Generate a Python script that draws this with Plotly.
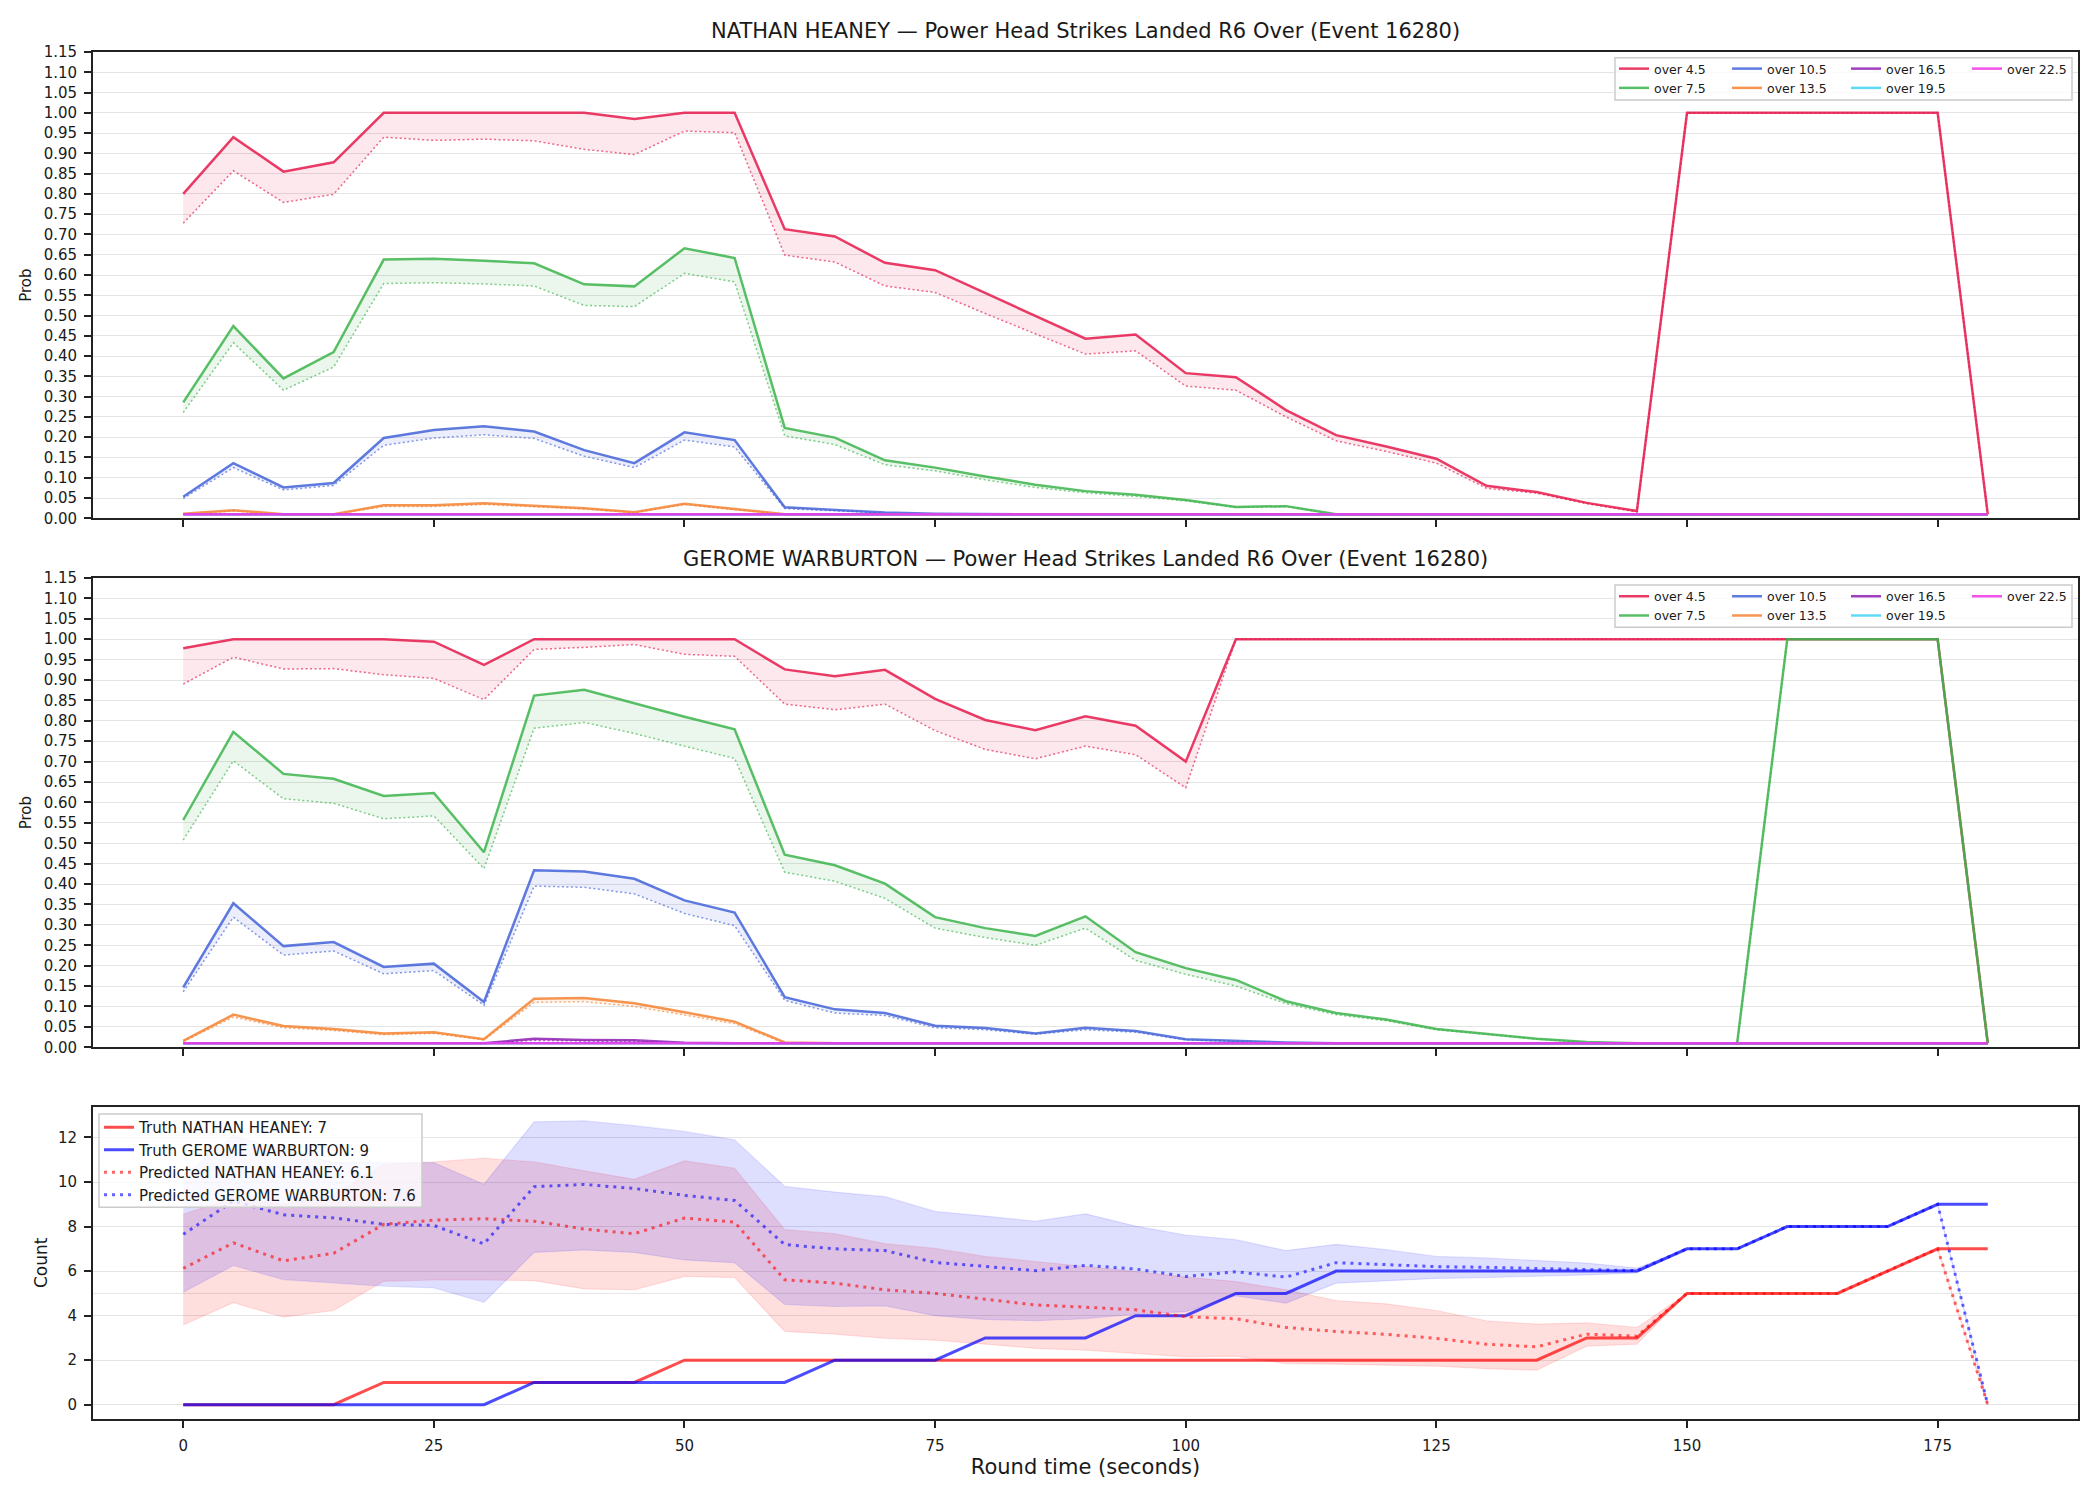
import plotly.graph_objects as go

# ---------------- data ----------------
TIME = [0, 5, 10, 15, 20, 25, 30, 35, 40, 45, 50, 55, 60, 65, 70, 75, 80, 85, 90,
        95, 100, 105, 110, 115, 120, 125, 130, 135, 140, 145, 150, 155, 160, 165, 170, 175, 180]
X_TICKS = [0, 25, 50, 75, 100, 125, 150, 175]

LINE_LABELS = ["over 4.5", "over 7.5", "over 10.5", "over 13.5", "over 16.5", "over 19.5", "over 22.5"]
LINE_COLORS = ["#e6194b", "#3cb44b", "#4363d8", "#f58231", "#911eb4", "#42d4f4", "#f032e6"]

# NATHAN HEANEY (solid = upper, lo = dotted lower)
HEANEY_O45 = [0.80, 0.94, 0.855, 0.878, 1.0, 1.0, 1.0, 1.0, 1.0, 0.985, 1.0, 1.0, 0.713, 0.695, 0.63, 0.612,
              0.556, 0.499, 0.443, 0.453, 0.358, 0.348, 0.267, 0.205, 0.177, 0.147, 0.08, 0.065, 0.038, 0.018,
              1.0, 1.0, 1.0, 1.0, 1.0, 1.0, 0.01]
HEANEY_O45_LO = [0.728, 0.857, 0.779, 0.799, 0.94, 0.932, 0.935, 0.931, 0.91, 0.897, 0.955, 0.951, 0.649, 0.632,
                 0.573, 0.557, 0.505, 0.455, 0.405, 0.413, 0.326, 0.316, 0.25, 0.191, 0.165, 0.136, 0.074, 0.062,
                 0.036, 0.016, 1.0, 1.0, 1.0, 1.0, 1.0, 1.0, 0.01]
HEANEY_O75 = [0.286, 0.474, 0.345, 0.41, 0.638, 0.64, 0.635, 0.629, 0.577, 0.572, 0.666, 0.642, 0.223, 0.199,
              0.143, 0.125, 0.103, 0.083, 0.067, 0.058, 0.045, 0.028, 0.03, 0.01, 0.01, 0.01, 0.01, 0.01, 0.01,
              0.01, 0.01, 0.01, 0.01, 0.01, 0.01, 0.01, 0.01]
HEANEY_O75_LO = [0.261, 0.433, 0.316, 0.373, 0.579, 0.581, 0.578, 0.573, 0.525, 0.522, 0.604, 0.583, 0.203, 0.182,
                 0.132, 0.117, 0.095, 0.076, 0.063, 0.054, 0.043, 0.027, 0.029, 0.01, 0.01, 0.01, 0.01, 0.01, 0.01,
                 0.01, 0.01, 0.01, 0.01, 0.01, 0.01, 0.01, 0.01]
HEANEY_O105 = [0.053, 0.136, 0.076, 0.087, 0.198, 0.218, 0.227, 0.214, 0.168, 0.136, 0.212, 0.193, 0.027, 0.021,
               0.014, 0.011, 0.01, 0.01, 0.01, 0.01, 0.01, 0.01, 0.01, 0.01, 0.01, 0.01, 0.01, 0.01, 0.01, 0.01,
               0.01, 0.01, 0.01, 0.01, 0.01, 0.01, 0.01]
HEANEY_O105_LO = [0.049, 0.125, 0.07, 0.081, 0.18, 0.198, 0.206, 0.197, 0.153, 0.125, 0.193, 0.176, 0.024, 0.018,
                  0.013, 0.01, 0.01, 0.01, 0.01, 0.01, 0.01, 0.01, 0.01, 0.01, 0.01, 0.01, 0.01, 0.01, 0.01, 0.01,
                  0.01, 0.01, 0.01, 0.01, 0.01, 0.01, 0.01]
HEANEY_O135 = [0.011, 0.02, 0.01, 0.01, 0.032, 0.032, 0.037, 0.031, 0.025, 0.015, 0.036, 0.023, 0.01, 0.01,
               0.01, 0.01, 0.01, 0.01, 0.01, 0.01, 0.01, 0.01, 0.01, 0.01, 0.01, 0.01, 0.01, 0.01, 0.01, 0.01,
               0.01, 0.01, 0.01, 0.01, 0.01, 0.01, 0.01]
HEANEY_O135_LO = [0.01, 0.018, 0.01, 0.01, 0.029, 0.029, 0.034, 0.028, 0.023, 0.014, 0.034, 0.021, 0.01, 0.01,
                  0.01, 0.01, 0.01, 0.01, 0.01, 0.01, 0.01, 0.01, 0.01, 0.01, 0.01, 0.01, 0.01, 0.01, 0.01, 0.01,
                  0.01, 0.01, 0.01, 0.01, 0.01, 0.01, 0.01]
HEANEY_O165 = [0.01, 0.01, 0.01, 0.01, 0.01, 0.01, 0.01, 0.01, 0.01, 0.01, 0.01, 0.01, 0.01, 0.01, 0.01, 0.01,
               0.01, 0.01, 0.01, 0.01, 0.01, 0.01, 0.01, 0.01, 0.01, 0.01, 0.01, 0.01, 0.01, 0.01, 0.01, 0.01,
               0.01, 0.01, 0.01, 0.01, 0.01]
HEANEY_O195 = [0.01, 0.01, 0.01, 0.01, 0.01, 0.01, 0.01, 0.01, 0.01, 0.01, 0.01, 0.01, 0.01, 0.01, 0.01, 0.01,
               0.01, 0.01, 0.01, 0.01, 0.01, 0.01, 0.01, 0.01, 0.01, 0.01, 0.01, 0.01, 0.01, 0.01, 0.01, 0.01,
               0.01, 0.01, 0.01, 0.01, 0.01]
HEANEY_O225 = [0.01, 0.01, 0.01, 0.01, 0.01, 0.01, 0.01, 0.01, 0.01, 0.01, 0.01, 0.01, 0.01, 0.01, 0.01, 0.01,
               0.01, 0.01, 0.01, 0.01, 0.01, 0.01, 0.01, 0.01, 0.01, 0.01, 0.01, 0.01, 0.01, 0.01, 0.01, 0.01,
               0.01, 0.01, 0.01, 0.01, 0.01]

# GEROME WARBURTON
WARBURTON_O45 = [0.978, 1.0, 1.0, 1.0, 1.0, 0.994, 0.937, 1.0, 1.0, 1.0, 1.0, 1.0, 0.926, 0.909, 0.925, 0.854,
                 0.802, 0.777, 0.811, 0.788, 0.70, 1.0, 1.0, 1.0, 1.0, 1.0, 1.0, 1.0, 1.0, 1.0, 1.0, 1.0, 1.0,
                 1.0, 1.0, 1.0, 0.01]
WARBURTON_O45_LO = [0.89, 0.956, 0.927, 0.928, 0.913, 0.904, 0.852, 0.975, 0.98, 0.987, 0.963, 0.958, 0.841,
                    0.827, 0.841, 0.776, 0.73, 0.707, 0.738, 0.717, 0.636, 1.0, 1.0, 1.0, 1.0, 1.0, 1.0, 1.0,
                    1.0, 1.0, 1.0, 1.0, 1.0, 1.0, 1.0, 1.0, 0.01]
WARBURTON_O75 = [0.557, 0.773, 0.67, 0.658, 0.616, 0.623, 0.478, 0.862, 0.876, 0.843, 0.81, 0.779, 0.472, 0.446,
                 0.401, 0.319, 0.292, 0.273, 0.321, 0.233, 0.194, 0.165, 0.113, 0.084, 0.068, 0.045, 0.033,
                 0.021, 0.013, 0.01, 0.01, 0.01, 1.0, 1.0, 1.0, 1.0, 0.01]
WARBURTON_O75_LO = [0.508, 0.702, 0.609, 0.598, 0.56, 0.567, 0.438, 0.782, 0.796, 0.769, 0.738, 0.708, 0.429,
                    0.407, 0.365, 0.292, 0.269, 0.25, 0.292, 0.213, 0.179, 0.15, 0.107, 0.08, 0.065, 0.043,
                    0.032, 0.02, 0.012, 0.01, 0.01, 0.01, 1.0, 1.0, 1.0, 1.0, 0.01]
WARBURTON_O105 = [0.147, 0.353, 0.248, 0.258, 0.197, 0.205, 0.111, 0.434, 0.431, 0.413, 0.36, 0.33, 0.123,
                  0.093, 0.084, 0.053, 0.047, 0.034, 0.048, 0.04, 0.02, 0.016, 0.012, 0.01, 0.01, 0.01, 0.01,
                  0.01, 0.01, 0.01, 0.01, 0.01, 0.01, 0.01, 0.01, 0.01, 0.01]
WARBURTON_O105_LO = [0.136, 0.319, 0.226, 0.236, 0.18, 0.188, 0.103, 0.395, 0.392, 0.376, 0.328, 0.298, 0.115,
                     0.084, 0.078, 0.048, 0.043, 0.032, 0.043, 0.037, 0.018, 0.014, 0.011, 0.01, 0.01, 0.01,
                     0.01, 0.01, 0.01, 0.01, 0.01, 0.01, 0.01, 0.01, 0.01, 0.01, 0.01]
WARBURTON_O135 = [0.016, 0.08, 0.052, 0.045, 0.034, 0.037, 0.02, 0.119, 0.121, 0.108, 0.086, 0.063, 0.012,
                  0.01, 0.01, 0.01, 0.01, 0.01, 0.01, 0.01, 0.01, 0.01, 0.01, 0.01, 0.01, 0.01, 0.01, 0.01,
                  0.01, 0.01, 0.01, 0.01, 0.01, 0.01, 0.01, 0.01, 0.01]
WARBURTON_O135_LO = [0.014, 0.074, 0.048, 0.041, 0.031, 0.034, 0.018, 0.11, 0.112, 0.1, 0.079, 0.058, 0.01,
                     0.01, 0.01, 0.01, 0.01, 0.01, 0.01, 0.01, 0.01, 0.01, 0.01, 0.01, 0.01, 0.01, 0.01, 0.01,
                     0.01, 0.01, 0.01, 0.01, 0.01, 0.01, 0.01, 0.01, 0.01]
WARBURTON_O165 = [0.01, 0.01, 0.01, 0.01, 0.01, 0.01, 0.01, 0.021, 0.018, 0.017, 0.011, 0.01, 0.01, 0.01,
                  0.01, 0.01, 0.01, 0.01, 0.01, 0.01, 0.01, 0.01, 0.01, 0.01, 0.01, 0.01, 0.01, 0.01, 0.01,
                  0.01, 0.01, 0.01, 0.01, 0.01, 0.01, 0.01, 0.01]
WARBURTON_O165_LO = [0.01, 0.01, 0.01, 0.01, 0.01, 0.01, 0.01, 0.017, 0.015, 0.014, 0.01, 0.01, 0.01, 0.01,
                     0.01, 0.01, 0.01, 0.01, 0.01, 0.01, 0.01, 0.01, 0.01, 0.01, 0.01, 0.01, 0.01, 0.01, 0.01,
                     0.01, 0.01, 0.01, 0.01, 0.01, 0.01, 0.01, 0.01]
WARBURTON_O195 = [0.01, 0.01, 0.01, 0.01, 0.01, 0.01, 0.01, 0.01, 0.01, 0.01, 0.01, 0.01, 0.01, 0.01, 0.01,
                  0.01, 0.01, 0.01, 0.01, 0.01, 0.01, 0.01, 0.01, 0.01, 0.01, 0.01, 0.01, 0.01, 0.01, 0.01,
                  0.01, 0.01, 0.01, 0.01, 0.01, 0.01, 0.01]
WARBURTON_O225 = [0.01, 0.01, 0.01, 0.01, 0.01, 0.01, 0.01, 0.01, 0.01, 0.01, 0.01, 0.01, 0.01, 0.01, 0.01,
                  0.01, 0.01, 0.01, 0.01, 0.01, 0.01, 0.01, 0.01, 0.01, 0.01, 0.01, 0.01, 0.01, 0.01, 0.01,
                  0.01, 0.01, 0.01, 0.01, 0.01, 0.01, 0.01]

# Bottom panel: counts
TRUTH_HEANEY = [0, 0, 0, 0, 1, 1, 1, 1, 1, 1, 2, 2, 2, 2, 2, 2, 2, 2, 2, 2, 2, 2, 2, 2, 2, 2, 2, 2, 3, 3,
                5, 5, 5, 5, 6, 7, 7]
TRUTH_WARBURTON = [0, 0, 0, 0, 0, 0, 0, 1, 1, 1, 1, 1, 1, 2, 2, 2, 3, 3, 3, 4, 4, 5, 5, 6, 6, 6, 6, 6, 6, 6,
                   7, 7, 8, 8, 8, 9, 9]
PRED_HEANEY = [6.12, 7.27, 6.46, 6.8, 8.1, 8.29, 8.35, 8.24, 7.89, 7.68, 8.38, 8.2, 5.61, 5.46, 5.16, 5.0, 4.74,
               4.48, 4.38, 4.26, 3.95, 3.86, 3.47, 3.29, 3.16, 2.98, 2.72, 2.6, 3.17, 3.08, 5, 5, 5, 5, 6, 7, 0]
PRED_WARBURTON = [7.65, 9.15, 8.53, 8.39, 8.1, 8.05, 7.22, 9.79, 9.89, 9.71, 9.4, 9.17, 7.19, 7.0, 6.92, 6.39,
                  6.21, 6.02, 6.26, 6.09, 5.76, 5.97, 5.73, 6.38, 6.29, 6.2, 6.17, 6.12, 6.06, 6.02, 7, 7, 8, 8,
                  8, 9, 0]
HEANEY_LOW = [3.58, 4.58, 3.93, 4.23, 5.54, 5.6, 5.6, 5.57, 5.2, 5.16, 5.76, 5.71, 3.29, 3.17, 2.98, 2.9, 2.72,
              2.53, 2.45, 2.3, 2.15, 2.18, 1.85, 1.82, 1.76, 1.73, 1.62, 1.55, 2.63, 2.72, 5, 5, 5, 5, 6, 7, 0]
HEANEY_HIGH = [8.55, 9.3, 9.0, 9.4, 10.8, 10.9, 11.07, 10.9, 10.5, 10.12, 10.95, 10.62, 7.86, 7.68, 7.23, 7.02,
               6.66, 6.44, 6.21, 5.98, 5.73, 5.53, 5.16, 4.68, 4.53, 4.23, 3.77, 3.62, 3.68, 3.47, 5, 5, 5, 5,
               6, 7, 0]
WARBURTON_LOW = [5.05, 6.25, 5.62, 5.47, 5.32, 5.25, 4.6, 6.84, 6.95, 6.84, 6.5, 6.38, 4.5, 4.41, 4.44, 4.0,
                 3.83, 3.77, 3.86, 4.07, 4.18, 4.89, 4.56, 5.46, 5.58, 5.67, 5.71, 5.76, 5.83, 5.92, 7, 7, 8, 8,
                 8, 9, 0]
WARBURTON_HIGH = [10.27, 12.07, 11.47, 10.87, 10.87, 10.87, 9.9, 12.7, 12.75, 12.53, 12.27, 11.89, 9.8, 9.55,
                  9.34, 8.68, 8.47, 8.24, 8.57, 8.02, 7.62, 7.41, 6.92, 7.2, 6.96, 6.66, 6.59, 6.48, 6.36, 6.14,
                  7, 7, 8, 8, 8, 9, 0]

PROB_TICKS = [0.00, 0.05, 0.10, 0.15, 0.20, 0.25, 0.30, 0.35, 0.40, 0.45, 0.50, 0.55, 0.60, 0.65, 0.70,
              0.75, 0.80, 0.85, 0.90, 0.95, 1.00, 1.05, 1.10, 1.15]
COUNT_TICKS = [0, 2, 4, 6, 8, 10, 12]

TITLE_TOP = "NATHAN HEANEY — Power Head Strikes Landed R6 Over (Event 16280)"
TITLE_MID = "GEROME WARBURTON — Power Head Strikes Landed R6 Over (Event 16280)"
LEGEND_BOTTOM = ["Truth NATHAN HEANEY: 7", "Truth GEROME WARBURTON: 9",
                 "Predicted NATHAN HEANEY: 6.1", "Predicted GEROME WARBURTON: 7.6"]

# ---------------- layout constants (pixels) ----------------
W, H = 2100, 1500
ML, MR, MT, MB = 93, 22, 52, 81
PLOT_W = W - ML - MR
PLOT_H = H - MT - MB
FONT = "DejaVu Sans"
INK = "#1a1a1a"


def px_x(px):
    return (px - ML) / PLOT_W


def px_y(py):
    return (H - MB - py) / PLOT_H


def rgba(hexc, a):
    h = hexc.lstrip("#")
    return "rgba(%d,%d,%d,%.3f)" % (int(h[0:2], 16), int(h[2:4], 16), int(h[4:6], 16), a)


def merge(*dicts, **kw):
    out = {}
    for d in dicts:
        out.update(d)
    out.update(kw)
    return out


fig = go.Figure()


def add_prob_panel(his, los, xa, ya, legends):
    for i, (lab, col) in enumerate(zip(LINE_LABELS, LINE_COLORS)):
        hi, lo = his[i], los[i]
        fig.add_trace(go.Scatter(x=TIME, y=lo, mode="lines", xaxis=xa, yaxis=ya, showlegend=False,
                                 line=dict(color=rgba(col, 0.65), width=1.5, dash="2px,2.5px"),
                                 hoverinfo="skip"))
        fig.add_trace(go.Scatter(x=TIME, y=hi, mode="lines", xaxis=xa, yaxis=ya, showlegend=False,
                                 line=dict(color=rgba(col, 0), width=0), fill="tonexty",
                                 fillcolor=rgba(col, 0.10), hoverinfo="skip"))
        fig.add_trace(go.Scatter(x=TIME, y=hi, mode="lines", xaxis=xa, yaxis=ya, name=lab,
                                 legend=legends[i // 2],
                                 line=dict(color=rgba(col, 0.85), width=2.5)))


add_prob_panel([HEANEY_O45, HEANEY_O75, HEANEY_O105, HEANEY_O135, HEANEY_O165, HEANEY_O195, HEANEY_O225],
               [HEANEY_O45_LO, HEANEY_O75_LO, HEANEY_O105_LO, HEANEY_O135_LO, HEANEY_O165, HEANEY_O195,
                HEANEY_O225],
               "x", "y", ["legend", "legend2", "legend3", "legend4"])
add_prob_panel([WARBURTON_O45, WARBURTON_O75, WARBURTON_O105, WARBURTON_O135, WARBURTON_O165,
                WARBURTON_O195, WARBURTON_O225],
               [WARBURTON_O45_LO, WARBURTON_O75_LO, WARBURTON_O105_LO, WARBURTON_O135_LO, WARBURTON_O165_LO,
                WARBURTON_O195, WARBURTON_O225],
               "x2", "y2", ["legend5", "legend6", "legend7", "legend8"])

# bottom panel bands
for lo, hi, rgb in [(HEANEY_LOW, HEANEY_HIGH, "#ff0000"), (WARBURTON_LOW, WARBURTON_HIGH, "#0000ff")]:
    fig.add_trace(go.Scatter(x=TIME, y=lo, mode="lines", xaxis="x3", yaxis="y3", showlegend=False,
                             line=dict(color=rgba(rgb, 0.10), width=1.2), hoverinfo="skip"))
    fig.add_trace(go.Scatter(x=TIME, y=hi, mode="lines", xaxis="x3", yaxis="y3", showlegend=False,
                             line=dict(color=rgba(rgb, 0.10), width=1.2), fill="tonexty",
                             fillcolor=rgba(rgb, 0.13), hoverinfo="skip"))

fig.add_trace(go.Scatter(x=TIME, y=TRUTH_HEANEY, mode="lines", xaxis="x3", yaxis="y3", name=LEGEND_BOTTOM[0],
                         legend="legend9", line=dict(color=rgba("#ff0000", 0.7), width=3)))
fig.add_trace(go.Scatter(x=TIME, y=TRUTH_WARBURTON, mode="lines", xaxis="x3", yaxis="y3",
                         name=LEGEND_BOTTOM[1], legend="legend9",
                         line=dict(color=rgba("#0000ff", 0.7), width=3)))
fig.add_trace(go.Scatter(x=TIME, y=PRED_HEANEY, mode="lines", xaxis="x3", yaxis="y3", name=LEGEND_BOTTOM[2],
                         legend="legend9", line=dict(color=rgba("#ff0000", 0.6), width=3, dash="3px,5px")))
fig.add_trace(go.Scatter(x=TIME, y=PRED_WARBURTON, mode="lines", xaxis="x3", yaxis="y3",
                         name=LEGEND_BOTTOM[3], legend="legend9",
                         line=dict(color=rgba("#0000ff", 0.6), width=3, dash="3px,5px")))

# ---------------- axes ----------------
axis_common = dict(showline=True, mirror=True, linecolor="#222222", linewidth=1.8, ticks="outside",
                   ticklen=7, tickwidth=1.5, tickcolor="#222222", zeroline=False,
                   tickfont=dict(family=FONT, size=15, color=INK))
x_common = merge(axis_common, range=[-9, 189], tickmode="array", tickvals=X_TICKS, showgrid=False)
y_grid = dict(showgrid=True, gridcolor="#e4e4e4", gridwidth=1)

top_dom = [px_y(518.3), px_y(52)]
mid_dom = [px_y(1047.3), px_y(578)]
bot_dom = [px_y(1419), px_y(1106.5)]

fig.update_layout(
    xaxis=merge(x_common, domain=[0, 1], anchor="y", showticklabels=False, matches="x3"),
    xaxis2=merge(x_common, domain=[0, 1], anchor="y2", showticklabels=False, matches="x3"),
    xaxis3=merge(x_common, domain=[0, 1], anchor="y3", ticklabelstandoff=5,
                 title=dict(text="Round time (seconds)", font=dict(family=FONT, size=21, color=INK),
                            standoff=4)),
    yaxis=merge(axis_common, y_grid, domain=top_dom, range=[0, 1.15], tickmode="array", tickvals=PROB_TICKS,
                tickformat=".2f", ticklabelstandoff=4,
                title=dict(text="Prob", font=dict(family=FONT, size=15, color=INK), standoff=8)),
    yaxis2=merge(axis_common, y_grid, domain=mid_dom, range=[0, 1.15], tickmode="array", tickvals=PROB_TICKS,
                 tickformat=".2f", ticklabelstandoff=4,
                 title=dict(text="Prob", font=dict(family=FONT, size=15, color=INK), standoff=8)),
    yaxis3=merge(axis_common, y_grid, domain=bot_dom, range=[-0.64, 13.39], tickmode="array",
                 tickvals=COUNT_TICKS, ticklabelstandoff=4,
                 title=dict(text="Count", font=dict(family=FONT, size=17, color=INK), standoff=6)),
)


# ---------------- legends (paper coords inside the plot area) ----------------
def legend_box(x_px, y_px, size):
    return dict(xref="paper", yref="paper", x=px_x(x_px), y=px_y(y_px), xanchor="left",
                yanchor="top", bgcolor="rgba(0,0,0,0)", borderwidth=0, tracegroupgap=0,
                font=dict(family=FONT, size=size, color=INK), itemwidth=30, traceorder="normal")


col_x = [1614, 1727, 1846, 1967]
legend_settings = {}
for k, cx in enumerate(col_x):
    key_top = "legend" if k == 0 else "legend%d" % (k + 1)
    legend_settings[key_top] = legend_box(cx, 54, 12.5)
    legend_settings["legend%d" % (k + 5)] = legend_box(cx, 581.5, 12.5)
legend_settings["legend9"] = legend_box(99, 1111, 15)
fig.update_layout(**legend_settings)

# legend frames and extra guide line
frame = dict(type="rect", xref="paper", yref="paper", line=dict(color="#cccccc", width=1.5),
             fillcolor="rgba(255,255,255,0.8)", layer="above")
shapes = [
    merge(frame, x0=px_x(1615), x1=px_x(2072), y0=px_y(100), y1=px_y(57.7)),
    merge(frame, x0=px_x(1615), x1=px_x(2072), y0=px_y(627.3), y1=px_y(585)),
    merge(frame, x0=px_x(99), x1=px_x(422), y0=px_y(1207.3), y1=px_y(1114)),
    dict(type="line", xref="x3 domain", yref="y3", x0=0, x1=1, y0=5, y1=5,
         line=dict(color="#e4e4e4", width=1), layer="below"),
]

annotations = [
    dict(text=TITLE_TOP, xref="paper", yref="paper", x=0.5, y=px_y(31), xanchor="center", yanchor="middle",
         showarrow=False, font=dict(family=FONT, size=21, color=INK)),
    dict(text=TITLE_MID, xref="paper", yref="paper", x=0.5, y=px_y(558.5), xanchor="center",
         yanchor="middle", showarrow=False, font=dict(family=FONT, size=21, color=INK)),
]

fig.update_layout(
    width=W, height=H,
    margin=dict(l=ML, r=MR, t=MT, b=MB, autoexpand=False),
    paper_bgcolor="white", plot_bgcolor="white",
    font=dict(family=FONT, color=INK),
    shapes=shapes, annotations=annotations,
    hovermode=False,
)

fig.write_html("out.html")
